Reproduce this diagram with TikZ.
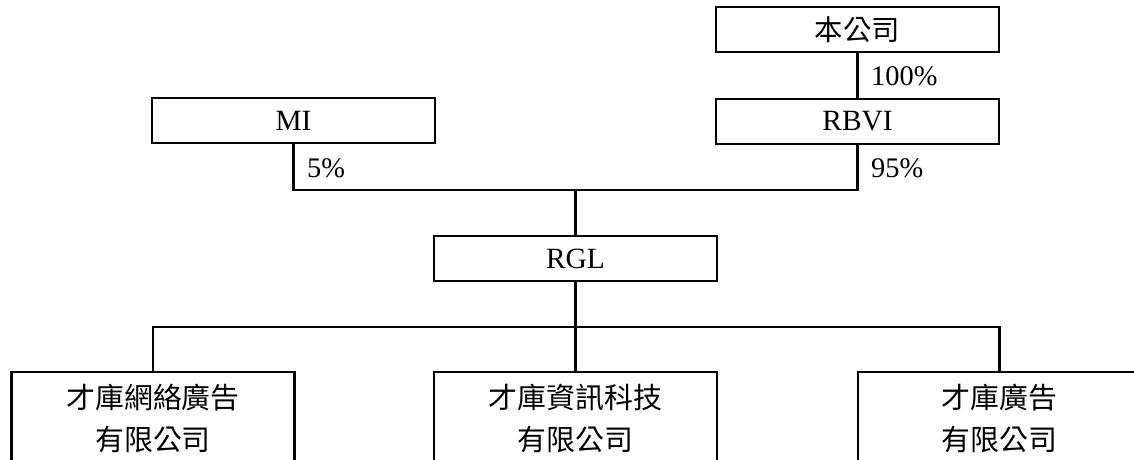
\documentclass[tikz,border=0pt]{standalone}
\usepackage{fontspec}
\setmainfont{Liberation Serif}
\newfontfamily\cjk[Scale=1.0]{Noto Sans CJK TC}
\begin{document}
\begin{tikzpicture}[x=1bp,y=-1bp,
  box/.style={draw,line width=2.3bp,minimum width=283bp,minimum height=45.5bp,inner sep=0pt,font=\fontsize{29.5}{30}\selectfont},
  cbox/.style={draw,line width=2.3bp,minimum width=283bp,minimum height=93bp,inner sep=0pt,align=center,font=\fontsize{29}{43}\selectfont\cjk},
  pct/.style={anchor=west,inner sep=0pt,font=\fontsize{28.5}{30}\selectfont},
  conn/.style={line width=2.3bp}]
\useasboundingbox (0,0) rectangle (1134,460);
\clip (0,0) rectangle (1134,460);
\node[box,font=\fontsize{28.5}{30}\selectfont\cjk] (top) at (857.5,29.5) {本公司};
\node[box] (rbvi) at (857.5,121.5) {RBVI};
\node[box] (mi) at (293.5,120.5) {MI};
\node[box] (rgl) at (575.5,258.5) {RGL};
\node[cbox] (b1) at (153,418.5) {才庫網絡廣告\\有限公司};
\node[cbox] (b2) at (575.5,418.5) {才庫資訊科技\\有限公司};
\node[cbox] (b3) at (999.5,418.5) {才庫廣告\\有限公司};
\coordinate (j1) at (575.5,190);
\coordinate (j2) at (575.5,327);
\draw[conn] (top.south) -- (rbvi.north);
\draw[conn] (mi.south) |- (j1) -| (rbvi.south);
\draw[conn] (j1) -- (rgl.north);
\draw[conn] (rgl.south) -- (b2.north);
\draw[conn] (b1.north) |- (j2) -| (b3.north);
\node[pct] (p100) at (871,76) {100\%};
\node[pct] (p95) at (871,168) {95\%};
\node[pct] (p5) at (307,168) {5\%};
\end{tikzpicture}
\end{document}
